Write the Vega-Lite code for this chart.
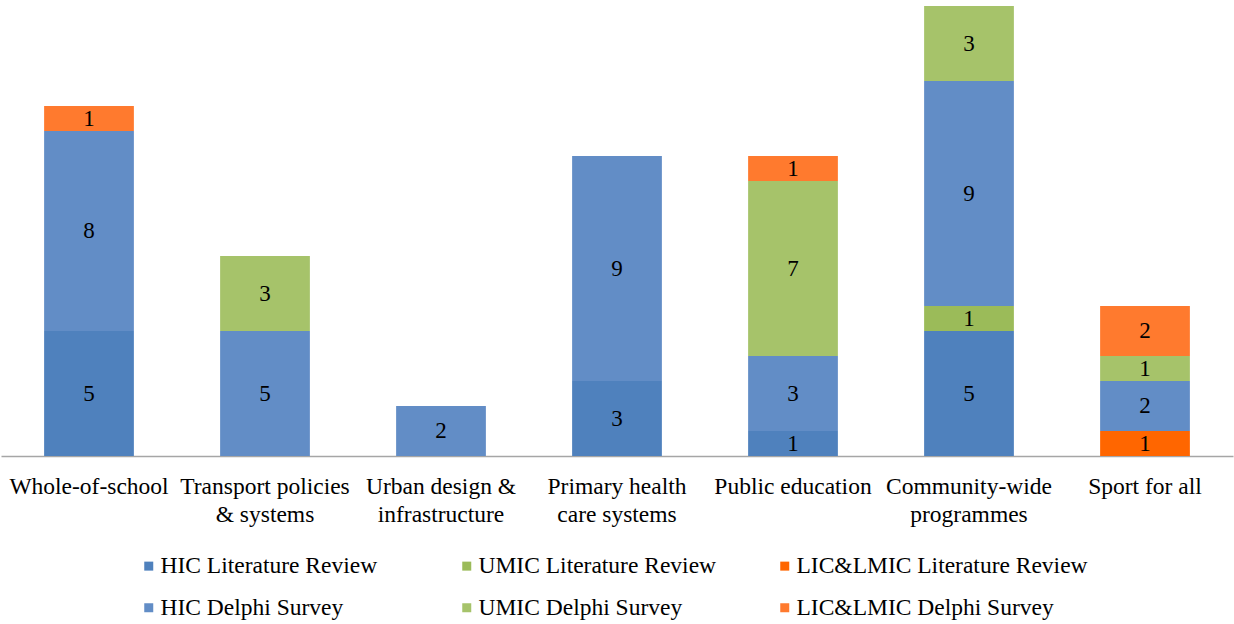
{
  "$schema": "https://vega.github.io/schema/vega-lite/v6.json",
  "autosize": "none",
  "width": 1232,
  "height": 450,
  "padding": {"top": 6, "left": 1, "right": 1, "bottom": 168},
  "background": "white",
  "config": {
    "view": {"stroke": null},
    "font": "Liberation Serif"
  },
  "data": {
    "values": [
      {"category": "Whole-of-school", "series": "HIC Literature Review", "value": 5},
      {"category": "Whole-of-school", "series": "HIC Delphi Survey", "value": 8},
      {"category": "Whole-of-school", "series": "LIC&LMIC Delphi Survey", "value": 1},
      {"category": "Transport policies & systems", "series": "HIC Delphi Survey", "value": 5},
      {"category": "Transport policies & systems", "series": "UMIC Delphi Survey", "value": 3},
      {"category": "Urban design & infrastructure", "series": "HIC Delphi Survey", "value": 2},
      {"category": "Primary health care systems", "series": "HIC Literature Review", "value": 3},
      {"category": "Primary health care systems", "series": "HIC Delphi Survey", "value": 9},
      {"category": "Public education", "series": "HIC Literature Review", "value": 1},
      {"category": "Public education", "series": "HIC Delphi Survey", "value": 3},
      {"category": "Public education", "series": "UMIC Delphi Survey", "value": 7},
      {"category": "Public education", "series": "LIC&LMIC Delphi Survey", "value": 1},
      {"category": "Community-wide programmes", "series": "HIC Literature Review", "value": 5},
      {"category": "Community-wide programmes", "series": "UMIC Literature Review", "value": 1},
      {"category": "Community-wide programmes", "series": "HIC Delphi Survey", "value": 9},
      {"category": "Community-wide programmes", "series": "UMIC Delphi Survey", "value": 3},
      {"category": "Sport for all", "series": "LIC&LMIC Literature Review", "value": 1},
      {"category": "Sport for all", "series": "HIC Delphi Survey", "value": 2},
      {"category": "Sport for all", "series": "UMIC Delphi Survey", "value": 1},
      {"category": "Sport for all", "series": "LIC&LMIC Delphi Survey", "value": 2}
    ]
  },
  "transform": [
    {"calculate": "indexof(['HIC Literature Review','UMIC Literature Review','LIC&LMIC Literature Review','HIC Delphi Survey','UMIC Delphi Survey','LIC&LMIC Delphi Survey'], datum.series)", "as": "so"}
  ],
  "encoding": {
    "x": {
      "field": "category",
      "type": "nominal",
      "sort": null,
      "scale": {"paddingInner": 0.49, "paddingOuter": 0.245},
      "axis": {
        "title": null,
        "labelAngle": 0,
        "ticks": false,
        "domainColor": "#A6A6A6",
        "domainWidth": 1.5,
        "labelFont": "Liberation Serif",
        "labelFontSize": 23.5,
        "labelColor": "black",
        "labelPadding": 18,
        "labelLineHeight": 28,
        "labelLimit": 0,
        "labelExpr": "datum.label == 'Transport policies & systems' ? ['Transport policies', '& systems'] : datum.label == 'Urban design & infrastructure' ? ['Urban design &', 'infrastructure'] : datum.label == 'Primary health care systems' ? ['Primary health', 'care systems'] : datum.label == 'Community-wide programmes' ? ['Community-wide', 'programmes'] : datum.label"
      }
    },
    "y": {
      "field": "value",
      "type": "quantitative",
      "stack": "zero",
      "scale": {"domain": [0, 18], "nice": false},
      "axis": null
    },
    "order": {"field": "so", "type": "quantitative"}
  },
  "layer": [
    {
      "mark": {"type": "bar"},
      "encoding": {
        "color": {
          "field": "series",
          "type": "nominal",
          "scale": {
            "domain": ["HIC Literature Review", "UMIC Literature Review", "LIC&LMIC Literature Review", "HIC Delphi Survey", "UMIC Delphi Survey", "LIC&LMIC Delphi Survey"],
            "range": ["#4F81BD", "#9BBB59", "#FF6600", "#628DC6", "#A6C36A", "#FF7A2E"]
          },
          "legend": {
            "title": null,
            "orient": "none",
            "legendX": 136,
            "legendY": 548,
            "direction": "horizontal",
            "columns": 3,
            "gridAlign": "all",
            "columnPadding": 3,
            "rowPadding": 17,
            "symbolType": "square",
            "symbolSize": 81,
            "symbolStrokeWidth": 0,
            "labelFont": "Liberation Serif",
            "labelFontSize": 23.5,
            "labelColor": "black",
            "labelOffset": 0,
            "labelLimit": 0
          }
        }
      }
    },
    {
      "mark": {"type": "text", "font": "Liberation Serif", "fontSize": 23, "color": "black", "baseline": "middle"},
      "encoding": {
        "y": {"field": "value", "type": "quantitative", "stack": "zero", "bandPosition": 0.5},
        "text": {"field": "value", "type": "quantitative"}
      }
    }
  ]
}
